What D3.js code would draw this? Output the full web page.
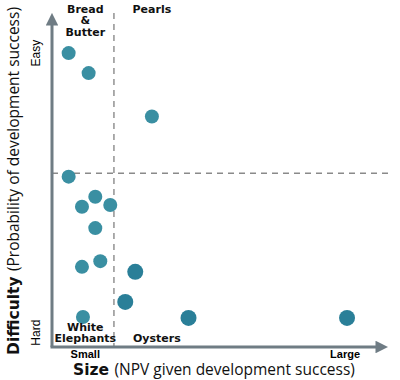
<!DOCTYPE html>
<html>
<head>
<meta charset="utf-8">
<script src="https://cdn.jsdelivr.net/npm/d3@7"></script>
<style>
  body { margin: 0; background: #fff; }
  svg text { font-family: "Open Sans", sans-serif; }
</style>
</head>
<body>
<div id="canvas"></div>
<script>
// data: size (NPV) and probability of success, both 0..100
var size = [5, 11, 30, 5, 13, 9, 17.5, 13, 14.5, 9, 25, 22, 9.3, 41, 88.6];
var prob = [88, 82, 69, 51, 45, 42, 42.5, 35.6, 25.7, 24, 22.5, 13.5, 9, 8.7, 8.7];
var big  = [0, 0, 0, 0, 0, 0, 0, 0, 0, 0, 1, 1, 0, 1, 1];
var splitX = 18.6, splitY = 52;
var quadrants = [
  {lines: ['Bread', '&', 'Butter'], x: 10, y: 100, pos: 'top'},
  {lines: ['Pearls'], x: 30, y: 100, pos: 'top'},
  {lines: ['White', 'Elephants'], x: 10, y: 0, pos: 'bottom'},
  {lines: ['Oysters'], x: 31.5, y: 0, pos: 'bottom'}
];

var W = 400, H = 380;
var svg = d3.select('#canvas').append('svg')
  .attr('width', W).attr('height', H);

var x = d3.scaleLinear().domain([0, 100]).range([52, 385]);
var y = d3.scaleLinear().domain([0, 100]).range([347, 13]);

var axisCol = '#6f7c84';
var defs = svg.append('defs');
defs.append('marker')
  .attr('id', 'arr').attr('viewBox', '0 0 10 10')
  .attr('refX', 2).attr('refY', 5)
  .attr('markerWidth', 4.2).attr('markerHeight', 4.2)
  .attr('markerUnits', 'strokeWidth')
  .attr('orient', 'auto')
  .append('path').attr('d', 'M0,0 L10,5 L0,10 Z').attr('fill', axisCol);

// dashed quadrant lines
svg.append('line')
  .attr('x1', x(splitX)).attr('x2', x(splitX))
  .attr('y1', y(100)).attr('y2', y(0))
  .attr('stroke', '#8a8a8a').attr('stroke-width', 1.4)
  .attr('stroke-dasharray', '6,5');
svg.append('line')
  .attr('x1', x(0)).attr('x2', x(100) + 5)
  .attr('y1', y(splitY)).attr('y2', y(splitY))
  .attr('stroke', '#8a8a8a').attr('stroke-width', 1.4)
  .attr('stroke-dasharray', '6,5');

// axes with arrow heads
svg.append('line')
  .attr('x1', x(0)).attr('y1', y(0))
  .attr('x2', x(0)).attr('y2', y(100) + 10)
  .attr('stroke', axisCol).attr('stroke-width', 3)
  .attr('marker-end', 'url(#arr)');
svg.append('line')
  .attr('x1', x(0) - 1.5).attr('y1', y(0))
  .attr('x2', x(100) - 7).attr('y2', y(0))
  .attr('stroke', axisCol).attr('stroke-width', 3)
  .attr('marker-end', 'url(#arr)');

// points
var pts = d3.range(size.length).map(function(i){
  return {s: size[i], p: prob[i], big: big[i]};
});
svg.selectAll('.dot').data(pts).enter().append('circle')
  .attr('class', 'dot')
  .attr('cx', function(d){ return x(d.s); })
  .attr('cy', function(d){ return y(d.p); })
  .attr('r', function(d){ return d.big ? 8 : 7; })
  .attr('fill', function(d){ return d.big ? '#2a7f98' : '#3a8fa2'; });

// quadrant labels
quadrants.forEach(function(q){
  var n = q.lines.length;
  q.lines.forEach(function(t, i){
    var by = q.pos == 'top' ? y(q.y) + i * 11.4 : y(q.y) - 5 - (n - 1 - i) * 11.4;
    svg.append('text')
      .attr('x', x(q.x)).attr('y', by)
      .attr('text-anchor', 'middle')
      .style('font-family', '"DejaVu Sans", sans-serif')
      .style('font-weight', 'bold').style('font-size', '11px')
      .style('fill', '#111')
      .text(t);
  });
});

// end labels
svg.append('text').attr('x', x(10)).attr('y', 358)
  .attr('text-anchor', 'middle')
  .style('font-family', '"Liberation Sans", sans-serif')
  .style('font-weight', 'bold').style('font-size', '11px').text('Small');
svg.append('text').attr('x', x(88)).attr('y', 358)
  .attr('text-anchor', 'middle')
  .style('font-family', '"Liberation Sans", sans-serif')
  .style('font-weight', 'bold').style('font-size', '11px').text('Large');
svg.append('text').attr('transform', 'translate(40,' + y(88) + ') rotate(-90)')
  .attr('text-anchor', 'middle')
  .style('font-family', '"Liberation Sans", sans-serif')
  .style('font-size', '12px').text('Easy');
svg.append('text').attr('transform', 'translate(40,' + y(4.3) + ') rotate(-90)')
  .attr('text-anchor', 'middle')
  .style('font-family', '"Liberation Sans", sans-serif')
  .style('font-size', '12px').text('Hard');

// axis titles
var xt = svg.append('text').attr('x', 214).attr('y', 375)
  .attr('text-anchor', 'middle').style('font-size', '15.5px').style('fill', '#111');
xt.append('tspan').style('font-weight', 'bold').style('font-family', '"DejaVu Sans", sans-serif').text('Size ');
xt.append('tspan').text('(NPV given development success)');

var yt = svg.append('text').attr('transform', 'translate(19,181) rotate(-90)')
  .attr('text-anchor', 'middle').style('font-size', '15.5px').style('fill', '#111');
yt.append('tspan').style('font-weight', 'bold').style('font-family', '"DejaVu Sans", sans-serif').text('Difficulty ');
yt.append('tspan').text('(Probability of development success)');
</script>
</body>
</html>
